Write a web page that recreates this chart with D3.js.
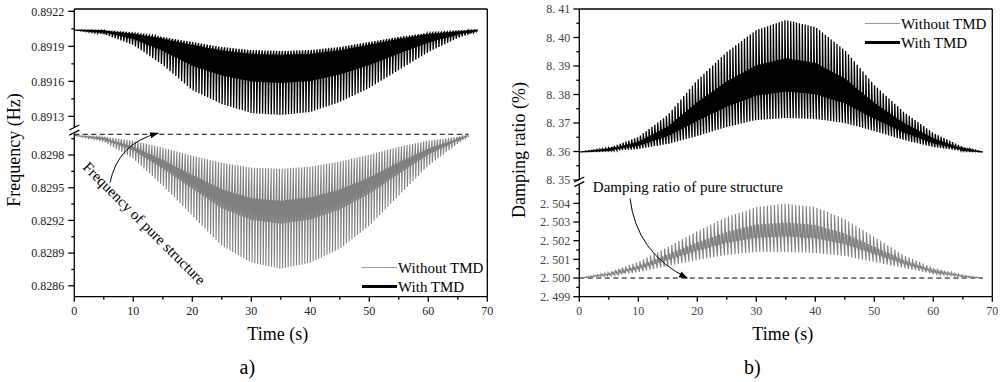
<!DOCTYPE html>
<html>
<head>
<meta charset="utf-8">
<script src="https://cdn.jsdelivr.net/npm/d3@7"></script>
<style>
    body { margin: 0; background: #fff; }
    svg { display: block; }
    text { font-family: "Liberation Serif", "Times New Roman", serif; font-weight: normal; }
</style>
</head>
<body>
<svg id="chart" width="1003" height="382"></svg>
<script>
// envelope sample times (s)
var tSample   = [0, 5, 10, 15, 20, 25, 30, 35, 40, 45, 50, 55, 60, 65, 68.4];
var tSampleNo = [0, 5, 10, 15, 20, 25, 30, 35, 40, 45, 50, 55, 60, 65, 66.8];

// a) frequency (Hz): base = quiet edge of the band, peak = tip of the spikes
var freqWithBase = [0.89204, 0.892035, 0.892014, 0.89198, 0.891937, 0.891894, 0.891868, 0.89186, 0.891868, 0.891894, 0.891937, 0.89198, 0.892014, 0.892031, 0.89204];
var freqWithPeak = [0.89204, 0.892006, 0.891911, 0.89174, 0.891525, 0.891405, 0.891328, 0.891311, 0.891337, 0.891423, 0.891543, 0.891697, 0.891851, 0.891971, 0.892031];
var freqNoBase   = [0.82998, 0.829968, 0.829931, 0.829867, 0.829794, 0.82973, 0.829684, 0.829674, 0.829693, 0.829739, 0.829803, 0.829876, 0.829931, 0.829968, 0.82998];
var freqNoPeak   = [0.82998, 0.829922, 0.829766, 0.829518, 0.829243, 0.828968, 0.828812, 0.828757, 0.828812, 0.82894, 0.829151, 0.829427, 0.829702, 0.829904, 0.829975];
var freqPure = 0.82999;

// b) damping ratio (%)
var dampWithBase = [8.35982, 8.36018, 8.36088, 8.36263, 8.36544, 8.3686, 8.37105, 8.37175, 8.3714, 8.37, 8.36719, 8.36404, 8.36158, 8.36018, 8.35982];
var dampWithPeak = [8.35982, 8.36123, 8.36509, 8.37281, 8.38509, 8.39491, 8.40263, 8.40614, 8.40368, 8.39561, 8.38333, 8.37386, 8.36649, 8.36158, 8.35982];
var dampNoBase   = [2.5, 2.50011, 2.50031, 2.50064, 2.50097, 2.50123, 2.50139, 2.50139, 2.50134, 2.50118, 2.50086, 2.50054, 2.50022, 2.50005, 2.5];
var dampNoPeak   = [2.5, 2.50031, 2.50086, 2.50166, 2.50252, 2.50327, 2.5038, 2.50399, 2.5038, 2.50316, 2.5022, 2.50123, 2.50054, 2.50016, 2.5];
var dampPure = 2.5;

// inner zig-zag band (fraction from base towards peak) and cycle length (s)
var freqWithBand = [0.06, 0.5],  freqWithPeriod = 0.49;
var freqNoBand   = [0.32, 0.55], freqNoPeriod   = 0.47;
var dampWithBand = [0.27, 0.61], dampWithPeriod = 0.49;
var dampNoBand   = [0.32, 0.61], dampNoPeriod   = 0.6;

var timeTicks = [0, 10, 20, 30, 40, 50, 60, 70];
var timeMinor = [5, 15, 25, 35, 45, 55, 65];
var freqUpTicks = [0.8913, 0.8916, 0.8919, 0.8922];
var freqLoTicks = [0.8286, 0.8289, 0.8292, 0.8295, 0.8298];
var dampUpTicks = [8.35, 8.36, 8.37, 8.38, 8.39, 8.40, 8.41];
var dampLoTicks = [2.499, 2.500, 2.501, 2.502, 2.503, 2.504];

var svg = d3.select("#chart");
var axisBottomY = 296.7;

function wavePoints(times, base, peak, band, period) {
    var b = d3.scaleLinear().domain(times).range(base);
    var p = d3.scaleLinear().domain(times).range(peak);
    var tEnd = times[times.length - 1];
    // one cycle: quiet edge -> spike -> small zig-zag inside the band
    var shape = [[0, 0], [0.12, 1], [0.3, band[1]], [0.45, band[0]], [0.6, band[1]], [0.75, band[0]]];
    var pts = [];
    for (var k = 0; k * period < tEnd; k++) {
        shape.forEach(function (s) {
            var t = (k + s[0]) * period;
            if (t >= tEnd) return;
            pts.push([t, b(t) + s[1] * (p(t) - b(t))]);
        });
    }
    pts.push([tEnd, b(tEnd)]);
    return pts;
}

function minorBetween(ticks, lo, hi) {
    var step = ticks[1] - ticks[0], out = [];
    for (var i = -1; i < ticks.length; i++) {
        var v = ticks[0] + (i + 0.5) * step;
        if (v > lo && v < hi) out.push(v);
    }
    return out;
}

function drawPanel(cfg, idx) {
    var g = svg.append("g");
    var x = d3.scaleLinear().domain([0, 70]).range([cfg.x0, cfg.x1]);
    var yUp = d3.scaleLinear().domain(cfg.upDomain).range([cfg.upBottom, 9]);
    var yLo = d3.scaleLinear().domain(cfg.loDomain).range([axisBottomY, cfg.loTop]);

    // clip areas for the two segments
    var defs = svg.append("defs");
    defs.append("clipPath").attr("id", "up" + idx).append("rect")
        .attr("x", cfg.x0).attr("y", 9).attr("width", cfg.x1 - cfg.x0).attr("height", cfg.upBottom - 9);
    defs.append("clipPath").attr("id", "lo" + idx).append("rect")
        .attr("x", cfg.x0).attr("y", cfg.loTop - 3).attr("width", cfg.x1 - cfg.x0).attr("height", axisBottomY - cfg.loTop + 3);

    // dashed "pure structure" line
    g.append("line")
        .attr("x1", x(0)).attr("x2", x(cfg.pureEnd))
        .attr("y1", yLo(cfg.pure)).attr("y2", yLo(cfg.pure))
        .attr("stroke", "#000").attr("stroke-width", 1).attr("stroke-dasharray", "5,3.5");

    cfg.series.forEach(function (s) {
        var y = s.seg == "up" ? yUp : yLo;
        var line = d3.line().x(function (d) { return x(d[0]); }).y(function (d) { return y(d[1]); });
        g.append("path")
            .attr("clip-path", "url(#" + s.seg + idx + ")")
            .attr("d", line(wavePoints(s.times, s.base, s.peak, s.band, s.period)))
            .attr("fill", "none")
            .attr("stroke", s.color)
            .attr("stroke-width", s.width)
            .attr("stroke-linejoin", "miter");
    });

    // frame: top, right, bottom, broken left axis
    var ax = g.append("g").attr("stroke", "#000").attr("stroke-width", 1.3).attr("fill", "none");
    ax.append("line").attr("x1", cfg.x0).attr("x2", cfg.x1).attr("y1", 9).attr("y2", 9);
    ax.append("line").attr("x1", cfg.x1).attr("x2", cfg.x1).attr("y1", 9).attr("y2", axisBottomY);
    ax.append("line").attr("x1", cfg.x0).attr("x2", cfg.x0).attr("y1", 9).attr("y2", cfg.upBottom);
    ax.append("line").attr("x1", cfg.x0).attr("x2", cfg.x0).attr("y1", cfg.loTop).attr("y2", axisBottomY);
    ax.append("line").attr("x1", cfg.x0).attr("x2", cfg.x1).attr("y1", axisBottomY).attr("y2", axisBottomY);
    // break marks
    [cfg.upBottom, cfg.loTop].forEach(function (yy) {
        ax.append("line").attr("x1", cfg.x0 - 5).attr("x2", cfg.x0 + 5)
            .attr("y1", yy + 2).attr("y2", yy - 3);
    });

    // y ticks
    function yTicks(scale, major, lo, hi) {
        major.forEach(function (v) {
            ax.append("line").attr("x1", cfg.x0 - 6).attr("x2", cfg.x0).attr("y1", scale(v)).attr("y2", scale(v));
            g.append("text").attr("x", cfg.x0 - cfg.labelGap).attr("y", scale(v)).attr("dy", "0.35em")
                .attr("text-anchor", "end").attr("font-size", 12).attr("fill", cfg.labelColor)
                .text(cfg.fmt(v));
        });
        minorBetween(major, lo, hi).forEach(function (v) {
            ax.append("line").attr("x1", cfg.x0 - 3).attr("x2", cfg.x0).attr("y1", scale(v)).attr("y2", scale(v));
        });
    }
    yTicks(yUp, cfg.upTicks, cfg.upDomain[0], cfg.upDomain[1]);
    yTicks(yLo, cfg.loTicks, cfg.loDomain[0], cfg.loDomain[1]);

    // x ticks
    timeTicks.forEach(function (t) {
        ax.append("line").attr("x1", x(t)).attr("x2", x(t)).attr("y1", axisBottomY).attr("y2", axisBottomY + 5);
        g.append("text").attr("x", x(t)).attr("y", 315).attr("text-anchor", "middle")
            .attr("font-size", 12).attr("fill", cfg.labelColor).text(t);
    });
    timeMinor.forEach(function (t) {
        ax.append("line").attr("x1", x(t)).attr("x2", x(t)).attr("y1", axisBottomY).attr("y2", axisBottomY + 3);
    });

    // titles
    g.append("text").attr("x", (cfg.x0 + cfg.x1) / 2 - 3).attr("y", 340).attr("text-anchor", "middle")
        .attr("font-size", 18).text("Time (s)");
    g.append("text").attr("transform", "translate(" + (cfg.x0 - 54) + ",150) rotate(-90)")
        .attr("text-anchor", "middle").attr("font-size", 18).text(cfg.yTitle);
    g.append("text").attr("x", cfg.x0 + 173).attr("y", 374).attr("text-anchor", "middle")
        .attr("font-size", 20).text(cfg.letter);

    // legend
    var lg = g.append("g").attr("font-size", 15);
    [["Without TMD", "#999", 1], ["With TMD", "#000", 3]].forEach(function (d, i) {
        var yy = Math.round(cfg.legendY + i * 19) + 0.5;
        lg.append("line").attr("x1", cfg.legendX).attr("x2", cfg.legendX + 35)
            .attr("y1", yy).attr("y2", yy).attr("stroke", d[1]).attr("stroke-width", d[2]);
        lg.append("text").attr("x", cfg.legendX + 36).attr("y", yy).attr("dy", "0.35em").text(d[0]);
    });

    return { x: x, yUp: yUp, yLo: yLo, g: g };
}

svg.append("defs").append("marker")
    .attr("id", "arrow").attr("viewBox", "0 0 10 10").attr("refX", 9).attr("refY", 5)
    .attr("markerWidth", 9).attr("markerHeight", 9).attr("markerUnits", "userSpaceOnUse")
    .attr("orient", "auto")
    .append("path").attr("d", "M0,1.5 L10,5 L0,8.5 Z").attr("fill", "#000");

var a = drawPanel({
    x0: 74.3, x1: 487.3,
    upDomain: [0.8912, 0.89222], upBottom: 128,
    loDomain: [0.8285, 0.8300], loTop: 133.2,
    upTicks: freqUpTicks, loTicks: freqLoTicks,
    fmt: d3.format(".4f"), labelGap: 10, labelColor: "#222",
    pure: freqPure, pureEnd: 66.8,
    yTitle: "Frequency (Hz)", letter: "a)",
    legendX: 362, legendY: 267,
    series: [
        { seg: "lo", times: tSampleNo, base: freqNoBase, peak: freqNoPeak, band: freqNoBand, period: freqNoPeriod, color: "#808080", width: 1.1 },
        { seg: "up", times: tSample, base: freqWithBase, peak: freqWithPeak, band: freqWithBand, period: freqWithPeriod, color: "#000", width: 1.3 }
    ]
}, 0);

var b = drawPanel({
    x0: 579.3, x1: 992.3,
    upDomain: [8.35, 8.41], upBottom: 180,
    loDomain: [2.499, 2.505], loTop: 184.7,
    upTicks: dampUpTicks, loTicks: dampLoTicks,
    fmt: function (v) { return d3.format(v > 5 ? ".2f" : ".3f")(v).replace(".", ". "); },
    labelGap: 9, labelColor: "#444",
    pure: dampPure, pureEnd: 68.4,
    yTitle: "Damping ratio (%)", letter: "b)",
    legendX: 865, legendY: 23,
    series: [
        { seg: "lo", times: tSample, base: dampNoBase, peak: dampNoPeak, band: dampNoBand, period: dampNoPeriod, color: "#808080", width: 1.1 },
        { seg: "up", times: tSample, base: dampWithBase, peak: dampWithPeak, band: dampWithBand, period: dampWithPeriod, color: "#000", width: 1.3 }
    ]
}, 1);

// annotations
a.g.append("text")
    .attr("transform", "translate(" + a.x(1.3) + "," + a.yLo(0.82968) + ") rotate(45)")
    .attr("font-size", 15).text("Frequency of pure structure");
a.g.append("path")
    .attr("d", "M" + a.x(6.05) + "," + a.yLo(0.829546) + " Q" + a.x(7.4) + "," + a.yLo(0.829906) + " " + a.x(14.2) + "," + a.yLo(freqPure + 0.00001))
    .attr("fill", "none").attr("stroke", "#000").attr("stroke-width", 1).attr("marker-end", "url(#arrow)");

b.g.append("text").attr("x", b.x(2.3)).attr("y", b.yLo(2.50487)).attr("dy", "0.35em")
    .attr("font-size", 15).text("Damping ratio of pure structure");
b.g.append("path")
    .attr("d", "M" + b.x(8.6) + "," + b.yLo(2.50426) + " Q" + b.x(9.7) + "," + b.yLo(2.50135) + " " + b.x(18.3) + "," + b.yLo(dampPure))
    .attr("fill", "none").attr("stroke", "#000").attr("stroke-width", 1).attr("marker-end", "url(#arrow)");
</script>
</body>
</html>
